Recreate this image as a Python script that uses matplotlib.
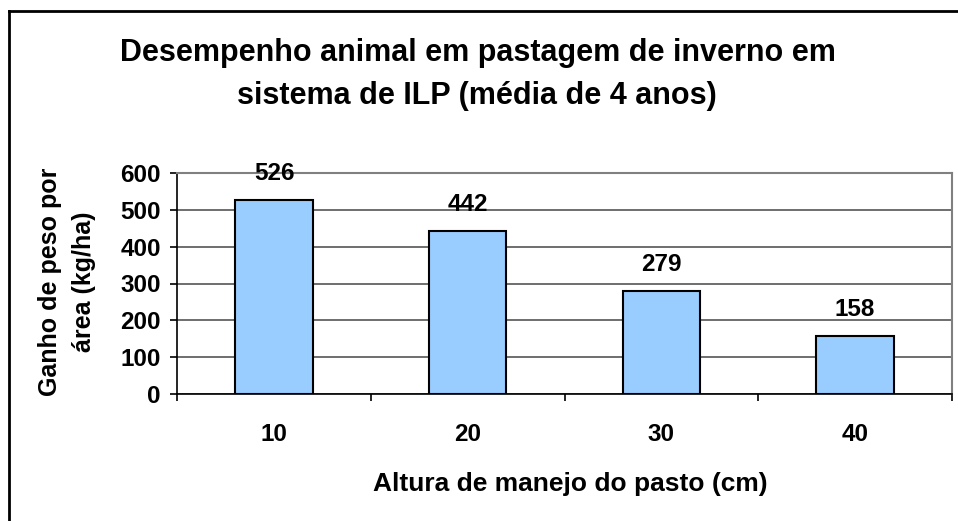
import matplotlib
matplotlib.use("Agg")
import matplotlib.pyplot as plt
from matplotlib.lines import Line2D

plt.rcParams['font.family'] = ['Liberation Sans', 'DejaVu Sans']
plt.rcParams['font.weight'] = 'bold'

# dados
alturas = ["10", "20", "30", "40"]
ganho = [526, 442, 279, 158]
yticks = [0, 100, 200, 300, 400, 500, 600]

titulo1 = "Desempenho animal em pastagem de inverno em"
titulo2 = "sistema de ILP (média de 4 anos)"
xlabel = "Altura de manejo do pasto (cm)"
ylabel1 = "Ganho de peso por"
ylabel2 = "área (kg/ha)"

W, H = 958, 521
dpi = 100
fig = plt.figure(figsize=(W / dpi, H / dpi), dpi=dpi)
fig.patch.set_facecolor("white")

ax = fig.add_axes([177.3 / W, 1 - 394.3 / H, (951.7 - 177.3) / W, (394.3 - 172.7) / H])

x = list(range(len(alturas)))
bars = ax.bar(x, ganho, width=0.4, color="#99CCFF", edgecolor="black", linewidth=1.5, zorder=3)

# rótulos dos valores
for b, v in zip(bars, ganho):
    ax.annotate(str(v), (b.get_x() + b.get_width() / 2, v), xytext=(0, 15),
                textcoords="offset pixels", ha="center", va="bottom",
                fontsize=17.5, fontweight="bold")

ax.set_xlim(-0.5, 3.5)
ax.set_ylim(0, 600)
ax.set_yticks(yticks)
ax.set_yticklabels([str(t) for t in yticks])
ax.yaxis.grid(True, color="#555555", linewidth=1.2, zorder=0)

ax.set_xticks(x)
ax.set_xticklabels(alturas)
ax.set_xticks([-0.5, 0.5, 1.5, 2.5, 3.5], minor=True)
ax.tick_params(axis="x", which="major", length=0, pad=21, labelsize=17.5)
ax.tick_params(axis="x", which="minor", length=5, width=1.2, direction="out", color="black")
ax.tick_params(axis="y", length=5, width=1.2, direction="out", pad=7, labelsize=17.5)

for s in ["top", "right"]:
    ax.spines[s].set_color("#808080")
    ax.spines[s].set_linewidth(1.5)
for s in ["left", "bottom"]:
    ax.spines[s].set_color("black")
    ax.spines[s].set_linewidth(1.2)

# títulos
fig.text(478 / W, 1 - 61 / H, titulo1, ha="center", va="baseline", fontsize=22, fontweight="bold")
fig.text(477 / W, 1 - 104 / H, titulo2, ha="center", va="baseline", fontsize=22, fontweight="bold")
fig.text(570 / W, 1 - 484 / H, xlabel, ha="center", va="center", fontsize=19, fontweight="bold")
fig.text(50 / W, 1 - 282 / H, ylabel1, ha="center", va="center", rotation=90,
         fontsize=18, fontweight="bold")
fig.text(84 / W, 1 - 282 / H, ylabel2, ha="center", va="center", rotation=90,
         fontsize=18, fontweight="bold")

# moldura do gráfico (cortada à direita e embaixo)
fig.add_artist(Line2D([9 / W, 9 / W], [0, 1 - 11 / H], color="black", linewidth=2, transform=fig.transFigure))
fig.add_artist(Line2D([9 / W, 1], [1 - 11 / H, 1 - 11 / H], color="black", linewidth=2, transform=fig.transFigure))

fig.savefig("out.png", dpi=dpi)
plt.close(fig)
